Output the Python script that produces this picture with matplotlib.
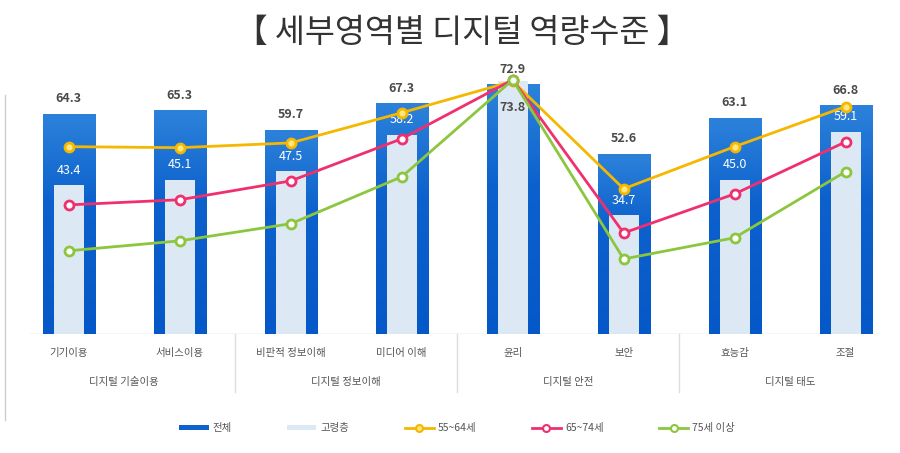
import matplotlib
matplotlib.use("Agg")
import matplotlib.pyplot as plt
from matplotlib.lines import Line2D
from matplotlib.patches import Patch
from matplotlib.colors import LinearSegmentedColormap
import numpy as np

plt.rcParams['font.family'] = ['Noto Sans CJK KR', 'DejaVu Sans']

categories = ['기기이용', '서비스이용', '비판적 정보이해', '미디어 이해', '윤리', '보안', '효능감', '조절']
groups = ['디지털 기술이용', '디지털 정보이해', '디지털 안전', '디지털 태도']
total = [64.3, 65.3, 59.7, 67.3, 72.9, 52.6, 63.1, 66.8]
elderly = [43.4, 45.1, 47.5, 58.2, 73.8, 34.7, 45.0, 59.1]
age_55_64 = [54.7, 54.4, 55.8, 64.6, 73.8, 42.4, 54.7, 66.4]
age_65_74 = [37.7, 39.2, 44.7, 57.0, 74.2, 29.5, 40.9, 56.1]
age_75_up = [24.3, 27.2, 32.2, 45.9, 74.2, 21.9, 28.1, 47.4]
legend_labels = ['전체', '고령층', '55~64세', '65~74세', '75세 이상']

c_total = '#0e62cd'
c_elder = '#dce9f5'
c_yellow = '#f5b700'
c_pink = '#f0306e'
c_green = '#8cc63f'

fig = plt.figure(figsize=(9, 4.53), dpi=100)
ax = fig.add_axes([30 / 900, (453 - 334) / 453, 850 / 900, 274 / 453])
x = np.arange(len(categories))

# outer bars, slightly lighter toward the top
grad = LinearSegmentedColormap.from_list(
    'bluegrad', [(0, '#0558c7'), (0.6, '#0d61cd'), (1, '#2c82da')])
bars = ax.bar(x, total, width=0.47, color='none', zorder=2)
for b in bars:
    bx, bw, bh = b.get_x(), b.get_width(), b.get_height()
    img = ax.imshow(np.linspace(0, 1, 100).reshape(-1, 1), cmap=grad, origin='lower',
                    extent=[bx, bx + bw, 0, bh], aspect='auto', zorder=2)
    img.set_clip_path(b)
ax.bar(x, elderly, width=0.27, color=c_elder, zorder=3)

line_specs = [(age_55_64, c_yellow, '#ffe680'), (age_65_74, c_pink, 'white'), (age_75_up, c_green, 'white')]
for vals, col, face in line_specs:
    ax.plot(x, vals, color=col, lw=2, marker='o', ms=6.5, mfc=face, mec=col, mew=2, zorder=5)

for xi, t, e in zip(x, total, elderly):
    ax.text(xi, t + 4.4, f'{t:.1f}', ha='center', va='center', fontsize=9,
            fontweight='bold', color='#4a4a4a', zorder=6)
    if e > t:
        ax.text(xi, e - 7.6, f'{e:.1f}', ha='center', va='center', fontsize=9,
                fontweight='bold', color='#4a4a4a', zorder=6)
    else:
        ax.text(xi, e + 4.4, f'{e:.1f}', ha='center', va='center', fontsize=9,
                color='white', zorder=4)

ax.set_xlim(-0.35, 7.31)
ax.set_ylim(0, 80)
ax.axis('off')
ax.axhline(0, color='#cccccc', lw=1, zorder=1)

for i, cat in enumerate(categories):
    ax.text(i, -5.5, cat, ha='center', va='center', fontsize=7.5, color='#555555')
for g, grp in enumerate(groups):
    ax.text(2 * g + 0.5, -14, grp, ha='center', va='center', fontsize=7.5, color='#555555')
for s in [1.5, 3.5, 5.5]:
    ax.plot([s, s], [0, -17], color='#dddddd', lw=1, clip_on=False)

fig.text(0.513, 1 - 33 / 453, '【 세부영역별 디지털 역량수준 】', ha='center', va='center',
         fontsize=23.5, fontweight='medium', color='#333333')
fig.add_artist(Line2D([5 / 900, 5 / 900], [1 - 420 / 453, 1 - 95 / 453], color='#cccccc', lw=1))

handles = [
    Patch(facecolor=c_total),
    Patch(facecolor=c_elder),
    Line2D([], [], color=c_yellow, lw=2, marker='o', ms=5, mfc='#ffe680', mec=c_yellow, mew=1.5),
    Line2D([], [], color=c_pink, lw=2, marker='o', ms=5, mfc='white', mec=c_pink, mew=1.5),
    Line2D([], [], color=c_green, lw=2, marker='o', ms=5, mfc='white', mec=c_green, mew=1.5),
]
fig.legend(handles, legend_labels, loc='center', bbox_to_anchor=(0.508, 1 - 428 / 453), ncol=5,
           frameon=False, fontsize=7.5, handlelength=2.8, handleheight=0.35, columnspacing=5.3,
           handletextpad=0.4, labelcolor='#555555')

fig.savefig('out.png', dpi=100, facecolor='white')
